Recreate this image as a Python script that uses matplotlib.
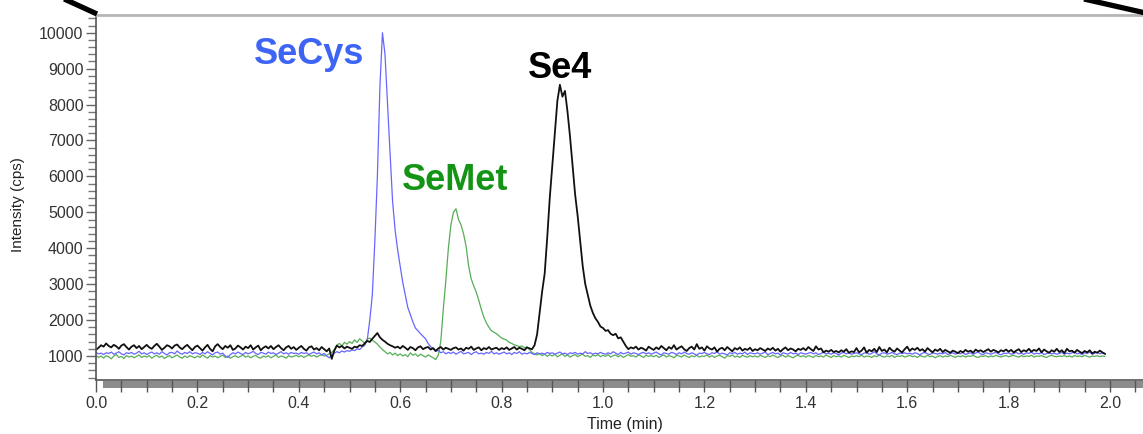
import numpy as np
import matplotlib
matplotlib.use('Agg')
import matplotlib.pyplot as plt
from matplotlib.patches import Rectangle
from matplotlib.lines import Line2D
from matplotlib.ticker import MultipleLocator

plt.rcParams['font.family'] = ['Liberation Sans', 'DejaVu Sans']

STEP = 0.005  # min between detector readings

# Se4 (black trace), 20 readings per 0.1 min
se4 = [
    1170, 1230, 1300, 1260, 1350, 1280, 1240, 1310, 1270, 1200, 1290, 1330, 1250, 1180, 1260, 1300, 1220, 1280, 1190, 1250,
    1310, 1240, 1200, 1280, 1340, 1260, 1170, 1230, 1300, 1270, 1210, 1290, 1320, 1240, 1190, 1260, 1310, 1230, 1160, 1250,
    1290, 1220, 1150, 1240, 1310, 1200, 1130, 1270, 1330, 1250, 1190, 1280, 1230, 1300, 1170, 1210, 1290, 1240, 1180, 1260,
    1220, 1300, 1180, 1240, 1290, 1160, 1230, 1270, 1210, 1280, 1190, 1250, 1300, 1220, 1160, 1240, 1280, 1200, 1250, 1170,
    1230, 1280, 1200, 1150, 1240, 1270, 1180, 1220, 1160, 1250, 1190, 1130, 1210, 920, 1150, 1290, 1240, 1280, 1210, 1260,
    1230, 1200, 1260, 1240, 1300, 1280, 1350, 1420, 1390, 1480, 1560, 1640, 1520, 1450, 1400, 1340, 1300, 1270, 1230, 1260,
    1210, 1280, 1230, 1170, 1250, 1220, 1160, 1240, 1270, 1190, 1230, 1250, 1180, 1220, 1140, 1210, 1250, 1180, 1230, 1200,
    1170, 1220, 1240, 1180, 1210, 1150, 1230, 1200, 1260, 1170, 1210, 1240, 1160, 1220, 1190, 1250, 1180, 1210, 1230, 1170,
    1220, 1190, 1240, 1170, 1210, 1250, 1180, 1230, 1200, 1160, 1240, 1210, 1190, 1300, 1600, 2200, 2800, 3300, 4300, 5400,
    6300, 7200, 8100, 8550, 8220, 8380, 7800, 7100, 6300, 5500, 4900, 4200, 3500, 3000, 2700, 2400, 2200, 2050, 1950, 1820,
    1780, 1700, 1720, 1620, 1580, 1620, 1490, 1520, 1400, 1280, 1190, 1240, 1210, 1260, 1180, 1230, 1200, 1150, 1260, 1210,
    1170, 1240, 1190, 1280, 1220, 1160, 1250, 1200, 1300, 1180, 1230, 1270, 1190, 1140, 1220, 1260, 1180, 1330, 1200, 1240,
    1150, 1270, 1210, 1180, 1240, 1120, 1200, 1230, 1160, 1250, 1190, 1130, 1220, 1180, 1240, 1150, 1200, 1170, 1230, 1140,
    1190, 1160, 1220, 1180, 1140, 1210, 1170, 1230, 1150, 1200, 1120, 1190, 1240, 1160, 1210, 1180, 1130, 1200, 1170, 1220,
    1160, 1250, 1190, 1140, 1270, 1180, 1210, 1100, 1150, 1120, 1170, 1110, 1140, 1100, 1160, 1120, 1190, 1090, 1130, 1110,
    1220, 1100, 1150, 1240, 1090, 1170, 1130, 1200, 1110, 1250, 1140, 1180, 1100, 1230, 1160, 1120, 1210, 1150, 1100, 1190,
    1260, 1140, 1210, 1170, 1230, 1150, 1190, 1120, 1220, 1160, 1100, 1180, 1140, 1200, 1110, 1170, 1130, 1090, 1150, 1120,
    1080, 1140, 1100, 1170, 1120, 1150, 1090, 1180, 1130, 1160, 1110, 1150, 1190, 1120, 1170, 1140, 1100, 1160, 1130, 1180,
    1120, 1170, 1100, 1150, 1190, 1110, 1160, 1130, 1200, 1120, 1170, 1140, 1210, 1100, 1180, 1130, 1090, 1160, 1120, 1200,
    1110, 1160, 1080, 1200, 1130, 1150, 1090, 1170, 1120, 1080, 1140, 1100, 1160, 1070, 1120, 1090, 1150, 1100, 1060,
]

# SeCys (blue trace)
secys = [
    1100, 1060, 1080, 1040, 1090, 1070, 1110, 1050, 1080, 1120, 1060, 1030, 1090, 1070, 1100, 1050, 1080, 1130, 1060, 1090,
    1040, 1080, 1110, 1060, 1090, 1050, 1120, 1070, 1030, 1090, 1100, 1060, 1140, 1080, 1050, 1100, 1070, 1120, 1060, 1090,
    1080, 1040, 1100, 1060, 1120, 1070, 1030, 1090, 1110, 1050, 1080, 1000, 960, 1040, 1090, 1060, 1110, 1070, 1040, 1100,
    1060, 1090, 1130, 1070, 1040, 1100, 1080, 1050, 1110, 1070, 1090, 1040, 1080, 1120, 1060, 1090, 1050, 1100, 1070, 1080,
    1050, 1100, 1070, 1090, 1040, 1080, 1110, 1060, 1090, 1030, 1070, 1000, 950, 1020, 1080, 1120, 1090, 1140, 1110, 1150,
    1130, 1170, 1150, 1200, 1180, 1250, 1300, 1450, 2000, 2700, 4200, 6000, 8500, 10000, 9400, 8000, 6650, 5300, 4500, 3950,
    3500, 3050, 2700, 2350, 2150, 1950, 1780, 1700, 1620, 1550, 1480, 1350, 1260, 1200, 1130, 1160, 1090, 1120, 1060, 1100,
    1070, 1110, 1050, 1090, 1130, 1060, 1080, 1100, 1040, 1090, 1120, 1060, 1080, 1050, 1100, 1070, 1130, 1060, 1090, 1050,
    1080, 1110, 1060, 1090, 1040, 1100, 1070, 1120, 1050, 1080, 1060, 1100, 1070, 1040, 1090, 1060, 1080, 1050, 1100, 1070,
    1090, 1050, 1080, 1110, 1060, 1080, 1040, 1090, 1070, 1100, 1050, 1080, 1060, 1120, 1070, 1090, 1050, 1080, 1060, 1100,
    1070, 1050, 1090, 1060, 1120, 1080, 1040, 1100, 1060, 1080, 1110, 1050, 1090, 1070, 1040, 1080, 1100, 1060, 1090, 1050,
    1080, 1110, 1060, 1030, 1090, 1070, 1050, 1100, 1080, 1040, 1090, 1060, 1110, 1070, 1050, 1090, 1060, 1020, 1080, 1070,
    1100, 1060, 1040, 1090, 1070, 1120, 1050, 1080, 1060, 1030, 1090, 1070, 1100, 1050, 1080, 1060, 1110, 1040, 1090, 1070,
    1060, 1090, 1050, 1080, 1110, 1040, 1070, 1100, 1060, 1080, 1030, 1090, 1070, 1050, 1100, 1060, 1080, 1040, 1090, 1070,
    1050, 1080, 1100, 1060, 1090, 1040, 1070, 1110, 1060, 1080, 1050, 1090, 1070, 1030, 1080, 1100, 1060, 1090, 1050, 1070,
    1090, 1060, 1040, 1080, 1100, 1050, 1070, 1120, 1060, 1030, 1080, 1090, 1050, 1070, 1100, 1060, 1040, 1080, 1070, 1090,
    1060, 1080, 1050, 1090, 1070, 1030, 1080, 1100, 1060, 1040, 1090, 1070, 1050, 1080, 1060, 1100, 1040, 1070, 1090, 1050,
    1080, 1060, 1100, 1040, 1070, 1090, 1050, 1080, 1110, 1060, 1040, 1090, 1070, 1050, 1080, 1100, 1060, 1030, 1080, 1070,
    1090, 1050, 1070, 1100, 1060, 1080, 1040, 1090, 1070, 1110, 1050, 1080, 1060, 1100, 1040, 1070, 1090, 1060, 1080, 1050,
    1070, 1100, 1050, 1080, 1060, 1090, 1120, 1060, 1080, 1040, 1090, 1070, 1110, 1050, 1080, 1100, 1060, 1090, 1070,
]

# SeMet (green trace)
semet = [
    1020, 960, 1000, 940, 1010, 980, 920, 1000, 1040, 960, 990, 930, 1010, 970, 1000, 950, 990, 1030, 960, 1000,
    970, 1010, 940, 990, 1020, 960, 1000, 930, 980, 1010, 950, 990, 1030, 970, 940, 1000, 960, 1010, 980, 950,
    1000, 960, 1030, 980, 940, 1010, 970, 1000, 950, 990, 1020, 960, 1000, 940, 980, 1010, 960, 990, 1030, 970,
    1000, 950, 990, 1020, 960, 940, 1000, 970, 1010, 950, 990, 1030, 960, 1000, 980, 940, 1010, 970, 990, 1020,
    980, 1010, 960, 1000, 1030, 990, 1020, 970, 1010, 1040, 1000, 1020, 1060, 1100, 1180, 1300, 1350, 1280, 1380, 1330,
    1400, 1350, 1450, 1380, 1480, 1420, 1360, 1470, 1500, 1440, 1390, 1330, 1250, 1180, 1120, 1060, 1100, 1030, 1080, 1010,
    1060, 1000, 1040, 980, 1090, 1020, 1060, 990, 1050, 1010, 970, 1030, 990, 950, 900, 1020, 1400, 2300, 3100, 4000,
    4650, 5000, 5100, 4800, 4650, 4400, 4050, 3500, 3150, 2950, 2780, 2550, 2300, 2080, 1920, 1800, 1700, 1660, 1620, 1560,
    1500, 1470, 1440, 1380, 1350, 1310, 1290, 1260, 1280, 1230, 1250, 1180, 1100, 1060, 1030, 1070, 1010, 1050, 990, 1040,
    1000, 1050, 980, 1020, 1060, 990, 1030, 970, 1010, 1040, 980, 1020, 1050, 990, 1010, 960, 1030, 1000, 1040, 980,
    1020, 990, 1040, 970, 1010, 1030, 980, 1020, 960, 1000, 1040, 990, 1010, 970, 1030, 1000, 960, 1020, 990, 1010,
    980, 1020, 960, 1000, 1030, 970, 1010, 990, 950, 1020, 1000, 970, 1030, 990, 960, 1010, 980, 1020, 970, 1000,
    990, 1030, 970, 1010, 960, 1000, 1020, 980, 940, 1010, 990, 1030, 970, 1000, 960, 1020, 990, 970, 1010, 980,
    1000, 970, 1020, 990, 960, 1010, 980, 1030, 990, 960, 1000, 1020, 970, 1010, 980, 950, 1000, 1020, 980, 1010,
    970, 1010, 990, 960, 1020, 980, 1000, 970, 1030, 990, 960, 1010, 980, 1000, 970, 1020, 990, 960, 1000, 980,
    1010, 980, 1020, 970, 1000, 990, 960, 1010, 980, 1030, 990, 970, 1000, 980, 1020, 960, 1000, 990, 1010, 970,
    990, 1020, 980, 1000, 960, 1010, 990, 970, 1020, 980, 1000, 950, 990, 1010, 970, 1000, 980, 1020, 990, 960,
    1000, 980, 1010, 970, 1000, 990, 1020, 980, 960, 1000, 990, 1010, 970, 1000, 980, 1020, 990, 970, 1000, 1010,
    980, 1000, 1020, 990, 970, 1010, 980, 1000, 990, 1020, 970, 1000, 990, 1010, 980, 960, 1000, 1020, 990, 980,
    1000, 990, 1010, 980, 1000, 970, 1010, 990, 1000, 980, 1020, 990, 970, 1000, 990, 1010, 980, 1000, 990,
]

peak_labels = ['SeCys', 'SeMet', 'Se4']
label_pos = [(0.420, 9130), (0.708, 5620), (0.915, 8740)]
label_colors = ['#3d64f5', '#149414', '#000000']

assert len(se4) == len(secys) == len(semet)
time_min = np.arange(len(se4)) * STEP

fig = plt.figure(figsize=(11.43, 4.34), dpi=100)
ax = fig.add_axes([96 / 1143, 1 - 380 / 434, 1 - 96 / 1143, 365 / 434])

ax.plot(time_min, semet, color='#57ad57', lw=0.9)
ax.plot(time_min, secys, color='#6666ff', lw=0.9)
ax.plot(time_min, se4, color='#111111', lw=1.3)

for name, (x, y), c in zip(peak_labels, label_pos, label_colors):
    ax.text(x, y, name, color=c, fontsize=26, fontweight='bold', ha='center', va='baseline')

ax.set_xlim(0, 1047 / 507)
ax.set_ylim(332, 10493)

ax.xaxis.set_major_locator(MultipleLocator(0.2))
ax.xaxis.set_minor_locator(MultipleLocator(0.05))
ax.yaxis.set_major_locator(MultipleLocator(1000))
ax.yaxis.set_minor_locator(MultipleLocator(200))
ax.xaxis.set_major_formatter(matplotlib.ticker.FormatStrFormatter('%.1f'))

ax.tick_params(axis='x', which='both', direction='out', length=8.5, width=1,
               color='#555555', labelsize=11.5, labelcolor='#333333', pad=3)
ax.tick_params(axis='y', which='major', direction='out', length=7, width=1,
               color='#666666', labelsize=11.5, labelcolor='#333333', pad=2)
ax.tick_params(axis='y', which='minor', direction='out', length=6, width=1, color='#777777')

ax.spines['right'].set_visible(False)
ax.spines['top'].set_color('#b5b5b5')
ax.spines['top'].set_linewidth(2)
ax.spines['left'].set_color('#555555')
ax.spines['bottom'].set_color('#555555')
ax.spines['left'].set_linewidth(1.2)
ax.spines['bottom'].set_linewidth(1.2)

# shaded ruler strip under the time axis
ax.add_patch(Rectangle((7 / 507, -8 / 365), 3, 7 / 365, transform=ax.get_xaxis_transform(),
                       facecolor='#8c8c8c', edgecolor='none', clip_on=False, zorder=1))

fig.text(18 / 1143, 1 - 205 / 434, 'Intensity (cps)', rotation=90, ha='center', va='center',
         fontsize=11, color='#222222')
fig.text(625 / 1143, 1 - 424 / 434, 'Time (min)', ha='center', va='center', fontsize=11.5,
         color='#222222')

# zoom connector strokes at the two upper corners
fig.add_artist(Line2D([62 / 1143, 97 / 1143], [1 + 2 / 434, 1 - 14 / 434], color='black',
                      lw=3.8, solid_capstyle='butt'))
fig.add_artist(Line2D([1084 / 1143, 1150 / 1143], [1 + 1 / 434, 1 - 14 / 434], color='black',
                      lw=3.8, solid_capstyle='butt'))

fig.savefig('out.png', dpi=100)
plt.close(fig)
